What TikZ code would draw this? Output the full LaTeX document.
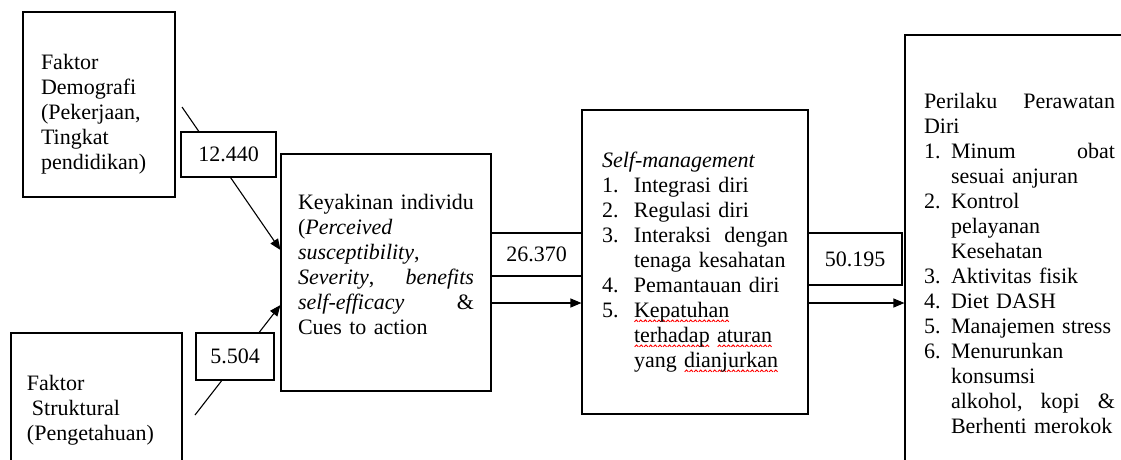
\documentclass[tikz,border=0pt]{standalone}
\usepackage{fontspec}
\setmainfont{Liberation Serif}
\usetikzlibrary{arrows.meta}
\newcommand{\teks}{\fontsize{22}{25}\selectfont}
\tikzset{
  % kotak utama: teks rata kiri, garis tipis hitam
  kotak/.style={draw=black, line width=1.1pt, fill=white,
    align=left, inner ysep=0pt, font=\teks},
  % kotak kecil berisi nilai
  nilai/.style={draw=black, line width=1.1pt, fill=white,
    inner sep=0pt, font=\teks},
  panah/.style={draw=black, line width=1.1pt, -{Triangle[length=11pt,width=9pt]}},
}
% nomor daftar dengan indentasi gantung
\newcommand{\butir}[2][32pt]{\makebox[#1][l]{#2.}}
% garis bergelombang merah di bawah kata (tanda ejaan)
\newsavebox{\kata}
\newcommand{\salah}[1]{\sbox{\kata}{#1}\leavevmode
  \rlap{\raisebox{-5pt}{\hbox to \wd\kata{\xleaders\hbox{\tikz[x=1pt,y=1pt]
    \draw[red, line width=.9pt] (0,0) -- (1.8,1.8) -- (3.6,0);}\hfill}}}\usebox{\kata}}

\begin{document}
\begin{tikzpicture}[x=1pt,y=1pt]
\useasboundingbox (0,0) rectangle (1121,-459);
\clip (0,0) rectangle (1121,-459);

% ----- kotak -----
\node[kotak, text width=116pt, inner xsep=18pt, minimum height=185pt] (demografi) at (99,-104.5)
  {\rule{0pt}{34pt}Faktor\\Demografi\\(Pekerjaan,\\Tingkat\\pendidikan)};
\node[kotak, text width=139pt, inner xsep=16pt, minimum height=154pt] (struktural) at (96.5,-410)
  {Faktor\\\hspace*{5pt}Struktural\\(Pengetahuan)};
\node[kotak, text width=176pt, inner xsep=17pt, minimum height=237pt] (keyakinan) at (386,-272.5)
  {Keyakinan individu\\(\textit{Perceived}\\\textit{susceptibility},\\
   \textit{Severity},\hfill\textit{benefits}\\\textit{self-efficacy}\hfill\&\\
   Cues to action\rule[-16pt]{0pt}{16pt}};
\node[kotak, text width=186pt, inner xsep=20pt, minimum height=304pt] (selfman) at (695,-262)
  {\textit{Self-management}\\\butir{1}Integrasi diri\\\butir{2}Regulasi diri\\
   \butir{3}Interaksi\hfill dengan\\\hspace*{32pt}tenaga kesahatan\\
   \butir{4}Pemantauan diri\\\butir{5}\salah{Kepatuhan}\\
   \hspace*{32pt}\salah{terhadap} \salah{aturan}\\\hspace*{32pt}yang \salah{dianjurkan}};
\node[kotak, text width=191pt, inner xsep=19pt, minimum height=456pt] (perilaku) at (1019.5,-263)
  {Perilaku\hfill Perawatan\\Diri\\\butir[27pt]{1}Minum\hfill obat\\
   \hspace*{27pt}sesuai anjuran\\\butir[27pt]{2}Kontrol\\\hspace*{27pt}pelayanan\\
   \hspace*{27pt}Kesehatan\\\butir[27pt]{3}Aktivitas fisik\\\butir[27pt]{4}Diet DASH\\
   \butir[27pt]{5}\mbox{Manajemen stress}\\\butir[27pt]{6}Menurunkan\\
   \hspace*{27pt}konsumsi\\\hspace*{27pt}alkohol,\hfill kopi\hfill\&\\
   \hspace*{27pt}Berhenti merokok};

% ----- panah -----
\coordinate (ekor1) at (182,-107);
\coordinate (ekor2) at (195,-415);
\draw[panah] (ekor1) -- (keyakinan.west |- 0,-250);
\draw[panah] (ekor2) -- (keyakinan.west |- 0,-305);
\draw[panah] (keyakinan.east |- 0,-303) -- (selfman.west |- 0,-303);
\draw[panah] (selfman.east |- 0,-303) -- (perilaku.west |- 0,-303);

% ----- nilai di atas panah -----
\node[nilai, minimum width=95pt, minimum height=45pt] (nilai1) at (228.5,-154.5) {12.440};
\node[nilai, minimum width=78pt, minimum height=47pt] (nilai2) at (235,-356.5) {5.504};
\node[nilai, minimum width=91pt, minimum height=43pt] (nilai3) at (536.5,-254.5) {26.370};
\node[nilai, minimum width=94pt, minimum height=52pt] (nilai4) at (855,-259) {50.195};

\end{tikzpicture}
\end{document}
